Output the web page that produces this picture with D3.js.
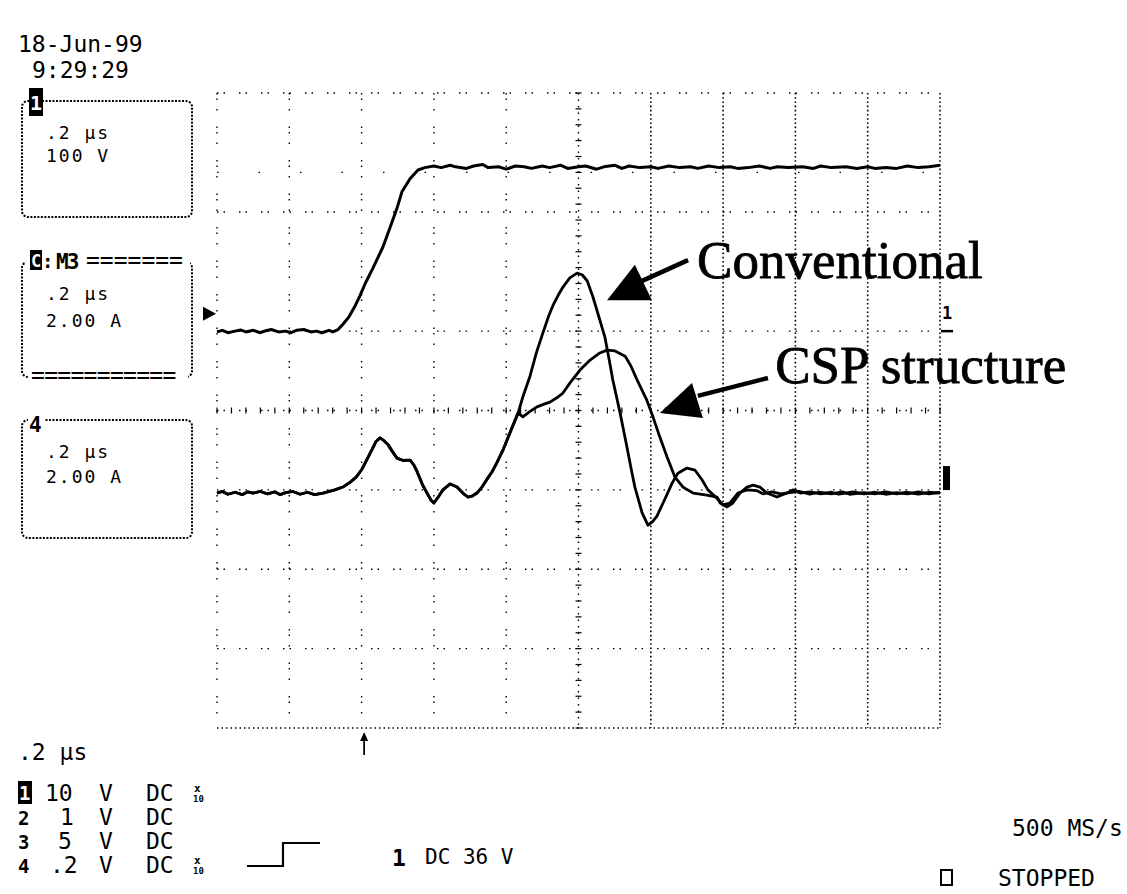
<!DOCTYPE html>
<html>
<head>
<meta charset="utf-8">
<script src="https://cdn.jsdelivr.net/npm/d3@7"></script>
<style>
  html, body { margin: 0; padding: 0; background: #fff; }
  svg { display: block; }
  .mono { font-family: "DejaVu Sans Mono", monospace; fill: #000; }
  .serif { font-family: "Liberation Serif", "Times New Roman", serif; fill: #000; }
</style>
</head>
<body>
<svg id="chart" width="1127" height="894"></svg>
<script>
// ---------------- DATA ----------------
// time in microseconds (0.2 us/div, 10 divisions)
// Channel 1: voltage (V), 100 V/div
const ch1Trace = [
  [0.00,-1],[0.015,1],[0.03,-2],[0.05,0],[0.065,1.5],[0.08,-1],[0.10,1],[0.12,-2],[0.135,0.5],[0.15,2],
  [0.17,-1],[0.19,0],[0.205,-2],[0.22,1],[0.24,2],[0.26,-1],[0.275,0],[0.29,-2],[0.31,1],[0.32,-1],[0.335,2],
  [0.349,9],[0.365,18],[0.380,30],[0.395,44],[0.410,60],[0.432,80],[0.459,106],[0.479,131],[0.498,155],
  [0.512,176],[0.534,192],[0.556,203],[0.575,206],
  [0.60,208],[0.62,206],[0.645,209],[0.66,207],[0.69,205],[0.71,208],[0.735,210],[0.75,206],[0.78,207],[0.80,204],
  [0.825,208],[0.85,207],[0.87,205],[0.90,208],[0.92,206],[0.95,209],[0.97,205],[1.00,207],[1.02,208],[1.05,204],
  [1.07,207],[1.10,209],[1.12,205],[1.14,208],[1.17,206],[1.20,207],[1.22,205],[1.25,208],[1.28,206],
  [1.31,207],[1.33,205],[1.36,208],[1.39,206],[1.42,207],[1.44,205],[1.47,206],[1.50,208],[1.53,205],
  [1.55,207],[1.58,206],[1.62,207],[1.65,205],[1.67,208],[1.70,206],[1.74,207],[1.77,205],
  [1.80,207],[1.82,205],[1.85,206],[1.88,205],[1.91,208],[1.94,206],[1.97,207],[2.00,209]
];

// Current traces (A), 2 A/div — common onset part
const sharedOnset = [
  [0.00,0],[0.015,0.04],[0.03,-0.03],[0.05,0.02],[0.07,-0.04],[0.085,0.03],[0.10,0],[0.12,0.04],
  [0.14,-0.02],[0.16,0.03],[0.175,-0.04],[0.19,0.01],[0.21,0.04],[0.23,-0.03],[0.25,0.02],[0.27,-0.04],[0.293,0],
  [0.326,0.08],[0.350,0.16],[0.368,0.27],[0.385,0.40],[0.401,0.60],[0.415,0.85],[0.429,1.10],[0.440,1.30],[0.451,1.39],
  [0.462,1.32],[0.473,1.22],[0.485,1.05],[0.498,0.88],[0.515,0.82],[0.534,0.83],[0.545,0.70],[0.553,0.55],
  [0.568,0.22],[0.581,0],[0.592,-0.18],[0.600,-0.25],[0.612,-0.10],[0.625,0.08],[0.645,0.23],[0.664,0.15],
  [0.680,0],[0.694,-0.10],[0.705,-0.08],[0.719,0],[0.733,0.15],[0.747,0.35],[0.762,0.55],[0.775,0.78],[0.791,1.08],[0.810,1.51],[0.833,2.02]
];
const conventionalTail = [
  [0.846,2.42],[0.866,2.95],[0.884,3.55],[0.902,4.05],[0.917,4.45],[0.929,4.72],[0.943,4.97],[0.957,5.19],[0.976,5.42],[0.996,5.54],
  [1.010,5.50],[1.024,5.35],[1.040,4.94],[1.059,4.36],[1.073,3.93],[1.085,3.35],[1.095,2.85],[1.115,2.02],[1.134,1.16],
  [1.147,0.55],[1.156,0.15],[1.176,-0.50],[1.192,-0.81],[1.205,-0.72],[1.217,-0.58],[1.234,-0.25],[1.259,0.25],[1.275,0.50],
  [1.300,0.63],[1.322,0.58],[1.342,0.33],[1.358,0.08],[1.383,-0.13],[1.400,-0.30],[1.419,-0.25],
  [1.441,0],[1.466,0.08],[1.494,0.06],[1.51,-0.02],[1.535,0.03],[1.56,-0.02],[1.59,0.02],[1.61,0.04],
  [1.64,-0.03],[1.665,0.02],[1.70,-0.02],[1.73,0.03],[1.75,-0.03],[1.79,0.01],[1.82,-0.02],
  [1.85,0.03],[1.88,-0.02],[1.91,0.02],[1.94,-0.03],[1.97,0.02],[2.00,0]
];
const cspTail = [
  [0.846,1.92],[0.865,2.05],[0.885,2.17],[0.905,2.24],[0.921,2.29],[0.940,2.40],[0.957,2.52],[0.976,2.77],[1.004,3.10],
  [1.032,3.35],[1.059,3.53],[1.079,3.60],[1.101,3.58],[1.129,3.45],[1.145,3.20],[1.162,2.85],[1.189,2.34],
  [1.206,1.92],[1.225,1.41],[1.245,0.91],[1.267,0.40],[1.289,0.15],[1.317,0],[1.355,-0.05],
  [1.383,-0.10],[1.392,-0.25],[1.411,-0.35],[1.427,-0.25],[1.447,0],[1.466,0.15],[1.483,0.20],
  [1.502,0.15],[1.521,0],[1.549,-0.10],[1.577,0],[1.593,0.08],[1.613,0],[1.64,0.03],[1.67,-0.02],
  [1.70,0.02],[1.72,-0.03],[1.76,0.03],[1.79,-0.02],[1.82,0.02],[1.85,-0.03],[1.88,0.01],
  [1.91,-0.02],[1.94,0.03],[1.97,-0.02],[2.00,0.02]
];
const conventionalTrace = sharedOnset.concat(conventionalTail);
const cspTrace = sharedOnset.concat(cspTail);

// graticule (divisions)
const gridCols = [0,1,2,3,4,5,6,7,8,9,10];
const gridRows = [0,1,2,3,4,5,6.5,7,8];
const triggerTime = 0.407;   // us

// Annotation labels
const annotationLabels = ["Conventional", "CSP structure"];

// Scope readouts
const dateText = "18-Jun-99";
const timeText = "9:29:29";
const timebase = ".2 \u00b5s";
const channelRows = [
  {ch:"1", scale:"10", unit:"V", cpl:"DC", probe:true},
  {ch:"2", scale:"1",  unit:"V", cpl:"DC", probe:false},
  {ch:"3", scale:"5",  unit:"V", cpl:"DC", probe:false},
  {ch:"4", scale:".2", unit:"V", cpl:"DC", probe:true}
];
const triggerText = "DC 36 V";
const sampleRate = "500 MS/s";
const runState = "STOPPED";
const box1Lines = [".2 \u00b5s", "100 V"];
const box2Lines = [".2 \u00b5s", "2.00 A"];
const box4Lines = [".2 \u00b5s", "2.00 A"];

// ---------------- DRAW ----------------
const svg = d3.select("#chart");
const L = 217, R = 940, T = 93, B = 728;
const xDiv = d3.scaleLinear().domain([0,10]).range([L,R]);
const yDiv = d3.scaleLinear().domain([0,8]).range([B,T]);
const xT = d3.scaleLinear().domain([0,2]).range([L,R]);
const yV = d3.scaleLinear().domain([-500,300]).range([B,T]);
const yI = d3.scaleLinear().domain([-5.92,10.08]).range([B,T]);

const grid = svg.append("g");
// vertical lines
gridCols.forEach(c => {
  const dense = c >= 6;
  grid.append("line")
    .attr("x1", xDiv(c)).attr("x2", xDiv(c))
    .attr("y1", T).attr("y2", B)
    .attr("stroke", "#000")
    .attr("stroke-width", dense ? 1.6 : 1.4)
    .attr("stroke-dasharray", dense ? "1.6,2.6" : (c === 5 ? "1.5,5" : "1.5,4,1.5,9,1.5,16"));
});
// horizontal lines
gridRows.forEach(r => {
  grid.append("line")
    .attr("x1", L).attr("x2", R)
    .attr("y1", yDiv(r)).attr("y2", yDiv(r))
    .attr("stroke", "#000")
    .attr("stroke-width", 1.4)
    .attr("stroke-dasharray", r === 7 ? "1.5,40" : (r === 0 ? "1.5,3" : "1.5,5,1.5,14"));
});
// center ticks
for (let k = 0; k <= 40; k++) {
  const yy = yDiv(k * 0.2);
  grid.append("line").attr("x1", xDiv(5) - 3).attr("x2", xDiv(5) + 3)
    .attr("y1", yy).attr("y2", yy).attr("stroke", "#000").attr("stroke-width", 1.2);
}
for (let k = 0; k <= 50; k++) {
  const xx = xDiv(k * 0.2);
  grid.append("line").attr("x1", xx).attr("x2", xx)
    .attr("y1", yDiv(4) - 3).attr("y2", yDiv(4) + 3).attr("stroke", "#000").attr("stroke-width", 1.2);
}

// traces
const lineV = d3.line().x(d => xT(d[0])).y(d => yV(d[1]));
const lineI = d3.line().x(d => xT(d[0])).y(d => yI(d[1]));
svg.append("path").datum(ch1Trace).attr("d", lineV)
  .attr("fill", "none").attr("stroke", "#000").attr("stroke-width", 3).attr("stroke-linejoin", "round");
svg.append("path").datum(cspTrace).attr("d", lineI)
  .attr("fill", "none").attr("stroke", "#000").attr("stroke-width", 2.8).attr("stroke-linejoin", "round");
svg.append("path").datum(conventionalTrace).attr("d", lineI)
  .attr("fill", "none").attr("stroke", "#000").attr("stroke-width", 2.8).attr("stroke-linejoin", "round");

// annotations (positioned in data units)
function arrow(lineFrom, lineTo, tri) {
  svg.append("line")
    .attr("x1", xT(lineFrom[0])).attr("y1", yI(lineFrom[1]))
    .attr("x2", xT(lineTo[0])).attr("y2", yI(lineTo[1]))
    .attr("stroke", "#000").attr("stroke-width", 4.5);
  svg.append("path")
    .attr("d", d3.line()(tri.map(p => [xT(p[0]), yI(p[1])])) + "Z")
    .attr("fill", "#000");
}
arrow([1.303,5.87], [1.170,5.32], [[1.079,4.86],[1.156,5.75],[1.203,4.86]]);
arrow([1.524,2.90], [1.330,2.45], [[1.225,2.02],[1.314,2.77],[1.344,1.89]]);
svg.append("text").attr("class", "serif").attr("x", xT(1.328)).attr("y", yI(5.42))
  .attr("font-size", 53).attr("stroke", "#000").attr("stroke-width", 0.8).text(annotationLabels[0]);
svg.append("text").attr("class", "serif").attr("x", xT(1.544)).attr("y", yI(2.77))
  .attr("font-size", 53).attr("stroke", "#000").attr("stroke-width", 0.8).text(annotationLabels[1]);

// right-edge ground markers
svg.append("text").attr("class", "mono").attr("x", R + 2).attr("y", yV(0) - 12)
  .attr("font-size", 17).attr("font-weight", "bold").text("1");
svg.append("line").attr("x1", R + 1).attr("x2", R + 13).attr("y1", yV(0)).attr("y2", yV(0))
  .attr("stroke", "#000").attr("stroke-width", 2.5);
svg.append("rect").attr("x", R + 3).attr("y", yI(0) - 27).attr("width", 7).attr("height", 24).attr("fill", "#000");

// left reference marker
svg.append("path").attr("d", `M203,${yV(22)-7} L216,${yV(22)} L203,${yV(22)+7} Z`).attr("fill", "#000");

// trigger arrow at bottom
const tx = xT(triggerTime);
svg.append("line").attr("x1", tx).attr("x2", tx).attr("y1", B + 6).attr("y2", B + 27)
  .attr("stroke", "#000").attr("stroke-width", 1.8);
svg.append("path").attr("d", `M${tx-4},${B+13} L${tx},${B+4} L${tx+4},${B+13} Z`).attr("fill", "#000");

// ---------------- READOUTS ----------------
function mono(x, y, s, size, opts = {}) {
  const t = svg.append("text").attr("class", "mono").attr("x", x).attr("y", y)
    .attr("font-size", size).text(s);
  if (opts.bold) t.attr("font-weight", "bold");
  if (opts.ls) t.attr("letter-spacing", opts.ls);
  if (opts.fill) t.style("fill", opts.fill);
  return t;
}
mono(18, 52, dateText, 23);
mono(32, 78, timeText, 23);

function box(y, h) {
  svg.append("rect").attr("x", 22).attr("y", y).attr("width", 170).attr("height", h)
    .attr("rx", 6).attr("fill", "none").attr("stroke", "#000").attr("stroke-width", 2)
    .attr("stroke-dasharray", "2,1.5");
}
// box 1
box(101, 116);
svg.append("rect").attr("x", 29).attr("y", 88).attr("width", 14).attr("height", 28).attr("fill", "#000");
mono(30, 110, "1", 20, {fill: "#fff", bold: true});
mono(46, 139, box1Lines[0], 18, {ls: 2});
mono(46, 162, box1Lines[1], 18, {ls: 2});
// box 2
box(262, 115);
svg.append("rect").attr("x", 26).attr("y", 248).attr("width", 164).attr("height", 22).attr("fill", "#fff");
svg.append("rect").attr("x", 30).attr("y", 250).attr("width", 12).attr("height", 20).attr("fill", "#000");
mono(31, 267, "C", 17, {fill: "#fff", bold: true});
mono(42, 268, ":", 19, {bold: true});
mono(56, 269, "M3", 21, {bold: true, ls: -2});
mono(86, 268, "=======", 23);
svg.append("rect").attr("x", 28).attr("y", 366).attr("width", 160).attr("height", 18).attr("fill", "#fff");
mono(31, 383, "===========", 23, {ls: -0.7});
mono(46, 300, box2Lines[0], 18, {ls: 2});
mono(46, 327, box2Lines[1], 18, {ls: 2});
// box 4
box(420, 118);
svg.append("rect").attr("x", 28).attr("y", 410).attr("width", 16).attr("height", 16).attr("fill", "#fff");
mono(29, 432, "4", 21, {bold: true});
mono(46, 458, box4Lines[0], 18, {ls: 2});
mono(46, 483, box4Lines[1], 18, {ls: 2});

// bottom readouts
mono(18, 760, timebase, 23);
const rowY = [801, 825, 849, 873];
const scaleX = {"10": 45, "1": 60, "5": 58, ".2": 50};
channelRows.forEach((r, i) => {
  const y = rowY[i];
  if (i === 0) {
    svg.append("rect").attr("x", 18).attr("y", y - 20).attr("width", 14).attr("height", 23).attr("fill", "#000");
    mono(19, y - 1, r.ch, 19, {bold: true, fill: "#fff"});
  } else {
    mono(18, y, r.ch, 19, {bold: true});
  }
  mono(scaleX[r.scale], y, r.scale, 23);
  mono(99, y, r.unit, 23);
  mono(146, y, r.cpl, 23);
  if (r.probe) {
    mono(194, y - 9, "x", 11, {bold: true});
    mono(193, y + 1, "10", 9, {bold: true});
  }
});
// trigger symbol
svg.append("path").attr("d", "M247,866 L283,866 L283,843 L320,843")
  .attr("fill", "none").attr("stroke", "#000").attr("stroke-width", 2.2);
mono(392, 866, "1", 23, {bold: true});
mono(425, 864, triggerText, 21);
mono(1012, 836, sampleRate, 23);
svg.append("rect").attr("x", 941).attr("y", 870).attr("width", 11).attr("height", 15)
  .attr("fill", "none").attr("stroke", "#000").attr("stroke-width", 2);
mono(998, 886, runState, 23);
</script>
</body>
</html>
